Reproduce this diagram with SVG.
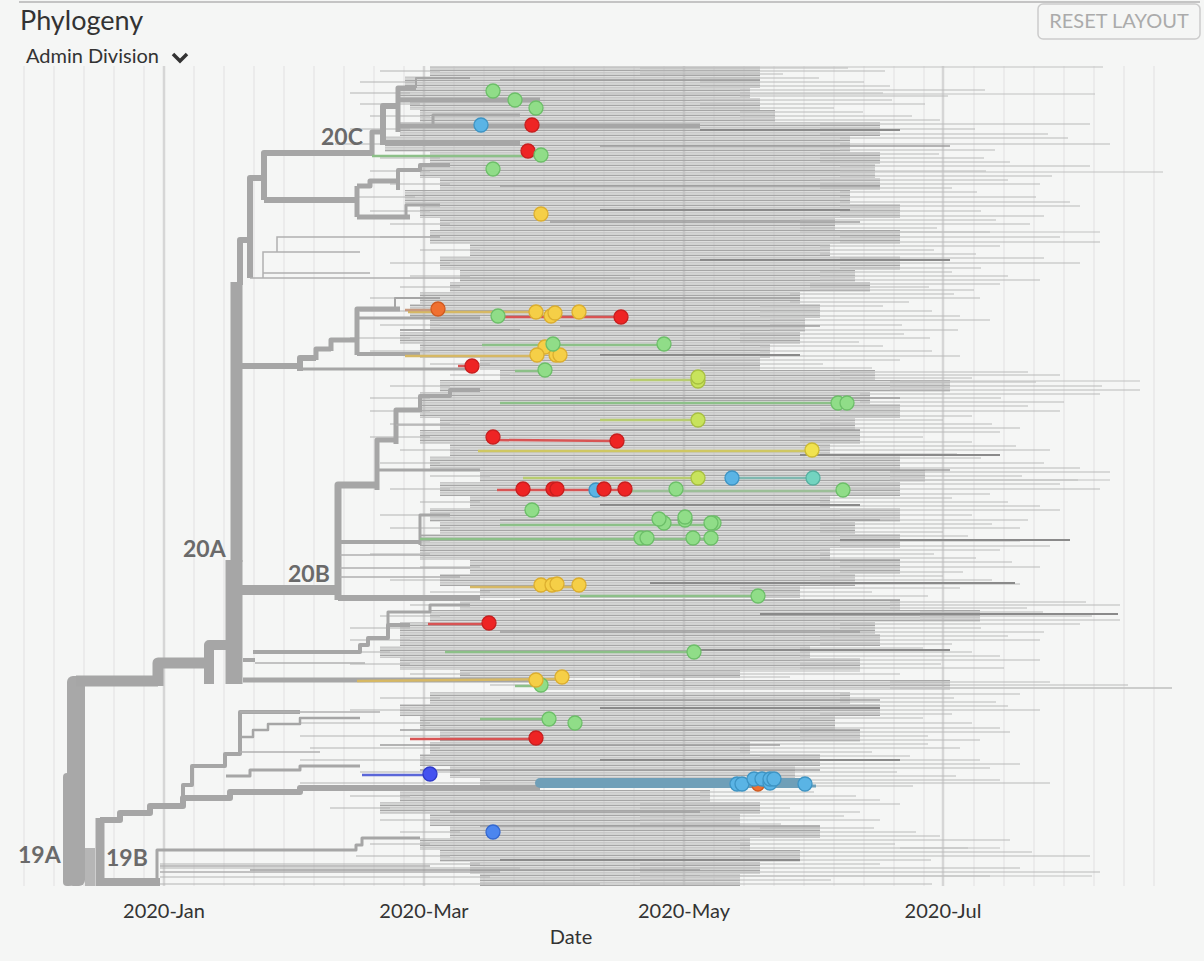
<svg xmlns="http://www.w3.org/2000/svg" width="1204" height="961" viewBox="0 0 1204 961">
<defs>
<style>
.txt{font-family:Lato,"Liberation Sans",sans-serif;fill:#333}
.clade{font-family:Lato,"Liberation Sans",sans-serif;font-weight:700;font-size:23px;fill:#6a6a6a}
.gm{stroke:#e4e4e4;stroke-width:1.2}
.gM{stroke:#d6d6d6;stroke-width:2.5}
.c{fill:url(#st)}
.ext{fill:none;stroke:#bababa;stroke-width:1.1}
.lead{fill:none;stroke:#b3b3b3;stroke-width:1.2}
.br{fill:none;stroke:#a6a6a6;stroke-linejoin:round}
.a1{stroke:#9c9c9c;stroke-width:1.4}
.a2{stroke:#8a8a8a;stroke-width:2}
.a3{stroke:#c2c2c2;stroke-width:1.2}
.th{stroke:#b0b0b0;stroke-width:1.5;fill:none}
.lg{stroke:#8cc088;stroke-width:2.5}
.lr{stroke:#d85454;stroke-width:2.5}
.lt{stroke:#d6b864;stroke-width:2.5}
.ly{stroke:#cfc762;stroke-width:2.5}
.lyg{stroke:#b8cc70;stroke-width:2.5}
.dot{stroke-width:1.3}
.g{fill:#90dd88;stroke:#6cbf68}
.r{fill:#ee2424;stroke:#c81e1e}
.b{fill:#5ab4e5;stroke:#3d94c4}
.y{fill:#f5cf47;stroke:#dcae2e}
.o{fill:#f07030;stroke:#d05a20}
.yg{fill:#c8e35c;stroke:#a8c040}
.yy{fill:#f1e34f;stroke:#ccbb33}
.tl{fill:#73d4c0;stroke:#55b0a0}
.db{fill:#4452f0;stroke:#2e3ac8}
.mb{fill:#4c86ef;stroke:#3468d0}
</style>
<pattern id="st" width="10" height="5" patternUnits="userSpaceOnUse"><rect width="10" height="1.3" fill="#a6a6a6"/><rect y="2.2" width="10" height="1" fill="#bfbfbf"/><rect y="3.6" width="10" height="0.9" fill="#b0b0b0"/></pattern>
</defs>
<rect width="1204" height="961" fill="#f5f6f5"/>

<g id="header">
<line x1="19" y1="2" x2="1200" y2="2" stroke="#c4c4c4" stroke-width="2"/>
<text class="txt" x="20" y="30" font-size="27">Phylogeny</text>
<text class="txt" x="26" y="63" font-size="20">Admin Division</text>
<path d="M173 54 L180 61 L187 54" fill="none" stroke="#333" stroke-width="3.5"/>
<rect x="1038" y="4" width="162" height="35" rx="5" fill="none" stroke="#cccccc" stroke-width="1.5"/>
<text x="1119" y="28" font-family="Lato,'Liberation Sans',sans-serif" font-size="20" fill="#ababab" text-anchor="middle">RESET LAYOUT</text>
</g>

<g id="grid">
<line class="gm" x1="24" y1="66" x2="24" y2="886"/><line class="gm" x1="54" y1="66" x2="54" y2="886"/><line class="gm" x1="84" y1="66" x2="84" y2="886"/><line class="gm" x1="114" y1="66" x2="114" y2="886"/><line class="gm" x1="144" y1="66" x2="144" y2="886"/>
<line class="gm" x1="194" y1="66" x2="194" y2="886"/><line class="gm" x1="224" y1="66" x2="224" y2="886"/><line class="gm" x1="254" y1="66" x2="254" y2="886"/><line class="gm" x1="284" y1="66" x2="284" y2="886"/><line class="gm" x1="314" y1="66" x2="314" y2="886"/><line class="gm" x1="344" y1="66" x2="344" y2="886"/><line class="gm" x1="374" y1="66" x2="374" y2="886"/><line class="gm" x1="404" y1="66" x2="404" y2="886"/>
<line class="gm" x1="454" y1="66" x2="454" y2="886"/><line class="gm" x1="484" y1="66" x2="484" y2="886"/><line class="gm" x1="514" y1="66" x2="514" y2="886"/><line class="gm" x1="544" y1="66" x2="544" y2="886"/><line class="gm" x1="574" y1="66" x2="574" y2="886"/><line class="gm" x1="604" y1="66" x2="604" y2="886"/><line class="gm" x1="634" y1="66" x2="634" y2="886"/><line class="gm" x1="664" y1="66" x2="664" y2="886"/>
<line class="gm" x1="714" y1="66" x2="714" y2="886"/><line class="gm" x1="744" y1="66" x2="744" y2="886"/><line class="gm" x1="774" y1="66" x2="774" y2="886"/><line class="gm" x1="804" y1="66" x2="804" y2="886"/><line class="gm" x1="834" y1="66" x2="834" y2="886"/><line class="gm" x1="864" y1="66" x2="864" y2="886"/><line class="gm" x1="894" y1="66" x2="894" y2="886"/><line class="gm" x1="924" y1="66" x2="924" y2="886"/>
<line class="gm" x1="974" y1="66" x2="974" y2="886"/><line class="gm" x1="1004" y1="66" x2="1004" y2="886"/><line class="gm" x1="1034" y1="66" x2="1034" y2="886"/><line class="gm" x1="1064" y1="66" x2="1064" y2="886"/><line class="gm" x1="1094" y1="66" x2="1094" y2="886"/><line class="gm" x1="1124" y1="66" x2="1124" y2="886"/><line class="gm" x1="1154" y1="66" x2="1154" y2="886"/>
<line class="gM" x1="164" y1="66" x2="164" y2="886"/><line class="gM" x1="424" y1="66" x2="424" y2="886"/><line class="gM" x1="684" y1="66" x2="684" y2="886"/><line class="gM" x1="943" y1="66" x2="943" y2="886"/>
</g>

<g id="tips">
<rect class="c" x="430" y="66" width="330" height="10"/>
<rect class="c" x="405" y="76" width="355" height="12"/>
<rect class="c" x="400" y="88" width="350" height="10"/>
<rect class="c" x="410" y="98" width="350" height="12"/>
<rect class="c" x="420" y="110" width="355" height="12"/>
<rect class="c" x="400" y="122" width="480" height="14"/>
<rect class="c" x="385" y="136" width="465" height="16"/>
<rect class="c" x="430" y="152" width="450" height="12"/>
<rect class="c" x="420" y="164" width="455" height="14"/>
<rect class="c" x="440" y="178" width="440" height="12"/>
<rect class="c" x="405" y="190" width="445" height="14"/>
<rect class="c" x="420" y="204" width="480" height="14"/>
<rect class="c" x="440" y="218" width="395" height="12"/>
<rect class="c" x="430" y="230" width="470" height="14"/>
<rect class="c" x="470" y="244" width="360" height="12"/>
<rect class="c" x="440" y="256" width="460" height="14"/>
<rect class="c" x="460" y="270" width="395" height="12"/>
<rect class="c" x="450" y="282" width="420" height="10"/>
<rect class="c" x="420" y="292" width="380" height="12"/>
<rect class="c" x="410" y="304" width="410" height="14"/>
<rect class="c" x="430" y="318" width="375" height="14"/>
<rect class="c" x="400" y="332" width="400" height="12"/>
<rect class="c" x="420" y="344" width="350" height="14"/>
<rect class="c" x="480" y="358" width="280" height="12"/>
<rect class="c" x="500" y="370" width="375" height="10"/>
<rect class="c" x="440" y="380" width="510" height="12"/>
<rect class="c" x="420" y="392" width="450" height="12"/>
<rect class="c" x="420" y="404" width="480" height="14"/>
<rect class="c" x="440" y="418" width="415" height="12"/>
<rect class="c" x="420" y="430" width="440" height="14"/>
<rect class="c" x="450" y="444" width="380" height="12"/>
<rect class="c" x="430" y="456" width="470" height="14"/>
<rect class="c" x="480" y="470" width="445" height="12"/>
<rect class="c" x="440" y="482" width="460" height="14"/>
<rect class="c" x="470" y="496" width="360" height="12"/>
<rect class="c" x="430" y="508" width="470" height="14"/>
<rect class="c" x="440" y="522" width="415" height="12"/>
<rect class="c" x="420" y="534" width="480" height="14"/>
<rect class="c" x="420" y="548" width="410" height="12"/>
<rect class="c" x="470" y="560" width="430" height="14"/>
<rect class="c" x="440" y="574" width="415" height="12"/>
<rect class="c" x="480" y="586" width="320" height="12"/>
<rect class="c" x="460" y="600" width="440" height="10"/>
<rect class="c" x="430" y="610" width="550" height="12"/>
<rect class="c" x="400" y="622" width="475" height="12"/>
<rect class="c" x="400" y="634" width="480" height="12"/>
<rect class="c" x="380" y="646" width="430" height="12"/>
<rect class="c" x="400" y="658" width="460" height="12"/>
<rect class="c" x="460" y="670" width="280" height="8"/>
<rect class="c" x="540" y="680" width="410" height="10"/>
<rect class="c" x="430" y="692" width="420" height="12"/>
<rect class="c" x="400" y="704" width="480" height="12"/>
<rect class="c" x="420" y="716" width="415" height="14"/>
<rect class="c" x="440" y="730" width="420" height="12"/>
<rect class="c" x="430" y="742" width="320" height="12"/>
<rect class="c" x="420" y="754" width="400" height="12"/>
<rect class="c" x="450" y="766" width="345" height="12"/>
<rect class="c" x="480" y="778" width="320" height="10"/>
<rect class="c" x="400" y="790" width="310" height="12"/>
<rect class="c" x="380" y="802" width="380" height="12"/>
<rect class="c" x="430" y="814" width="310" height="12"/>
<rect class="c" x="450" y="826" width="370" height="12"/>
<rect class="c" x="420" y="838" width="330" height="12"/>
<rect class="c" x="440" y="850" width="360" height="12"/>
<rect class="c" x="470" y="862" width="290" height="12"/>
<rect class="c" x="480" y="874" width="260" height="12"/>

<path class="ext" d="M640 68H848M640 71H885M640 74H783M700 78H819M700 82H864M700 86H890M740 90H985M740 93H883M740 96H948M700 100H892M700 104H925M700 108H834M740 112H863M740 116H912M740 120H940M820 124H1090M820 129H975M820 134H1048M840 138H1068M840 144H1110M840 150H995M820 154H939M820 158H984M820 162H1010M840 166H1090M840 171H986M840 176H1052M820 180H1008M820 184H1040M820 188H952M840 192H977M840 197H1036M840 202H1070M840 206H1080M840 211H981M840 216H1044M800 220H996M800 224H1030M800 228H937M840 232H990M840 237H1060M840 242H1100M820 246H1000M820 250H934M820 254H976M840 258H1044M840 263H1080M840 268H981M820 272H952M820 276H1008M820 280H1040M810 284H1000M810 287H929M810 290H974M790 294H954M790 298H980M790 302H909M760 306H883M760 311H932M760 316H960M770 320H990M770 325H902M770 330H958M740 334H904M740 338H930M740 342H859M760 346H883M760 351H932M760 356H960M700 360H900M700 364H823M700 368H872M840 372H1028M840 375H1060M840 378H972M890 382H1036M890 386H1102M890 390H1140M860 394H1100M860 398H1001M860 402H1064M840 406H1028M840 411H1060M840 416H972M820 420H943M820 424H992M820 428H1020M800 432H1000M800 437H923M800 442H972M820 446H1016M820 450H1050M820 454H957M840 458H981M840 463H1044M840 468H1080M890 472H1110M890 476H1022M890 480H1078M840 484H1060M840 489H1100M840 494H990M820 498H952M820 502H1008M820 506H1040M840 510H1060M840 515H972M840 520H1028M820 524H992M820 528H1020M820 532H943M840 536H968M840 541H1020M840 546H1050M820 550H1000M820 554H934M820 558H976M840 562H1012M840 567H1040M840 572H963M820 576H943M820 580H992M820 584H1020M740 588H960M740 592H872M740 596H928M890 602H1086M890 605H1120M890 608H1027M920 612H1043M920 616H1092M920 620H1120M840 624H1080M840 628H981M840 632H1044M820 636H1008M820 640H1040M820 644H952M800 648H923M800 652H972M800 656H1000M800 660H1040M800 664H941M800 668H1004M640 671H860M640 674H900M640 677H790M890 682H1050M890 685H1128M890 688H1172M840 694H1020M840 698H954M840 702H996M820 706H1008M820 710H1040M820 714H952M800 718H923M800 723H972M800 728H1000M800 732H1010M800 736H928M800 740H980M740 744H928M740 748H960M740 752H872M760 756H910M760 760H980M760 764H1020M760 768H990M760 772H897M760 776H956M740 780H1000M740 783H1050M740 786H913M700 792H814M700 796H856M700 800H880M640 804H900M640 808H790M640 812H860M640 816H844M640 820H880M640 824H781M760 828H874M760 832H916M760 836H940M740 840H1010M740 844H895M740 848H968M740 852H1032M740 856H1090M740 860H931M640 864H880M640 868H1020M640 872H1100M640 876H990M640 880H831M640 884H932"/>

<path class="lead" d="M380 71H440M360 82H415M350 93H410M360 104H420M370 116H430M350 129H410M335 144H395M380 158H440M370 171H430M390 184H450M355 197H415M370 211H430M390 224H450M380 237H440M420 250H480M390 263H450M410 276H470M400 287H460M370 298H430M360 311H420M380 325H440M350 338H410M370 351H430M430 364H490M450 375H510M390 386H450M370 398H430M370 411H430M390 424H450M370 437H430M400 450H460M380 463H440M430 476H490M390 489H450M420 502H480M380 515H440M390 528H450M370 541H430M370 554H430M420 567H480M390 580H450M430 592H490M410 605H470M380 616H440M350 628H410M350 640H410M330 652H390M350 664H410M410 674H470M490 685H550M380 698H440M350 710H410M300 723H430M300 736H450M310 748H440M300 760H430M360 772H460M300 783H490M350 796H410M330 808H390M380 820H440M400 832H460M370 844H430M356 856H450M160 864H480M160 868H520M160 877H490M160 884H600"/>

<line class="a3" x1="430" y1="67" x2="1103" y2="67"/><line class="a3" x1="600" y1="94" x2="1095" y2="94"/><line class="a3" x1="700" y1="172" x2="1163" y2="172"/><line class="a3" x1="800" y1="232" x2="1100" y2="232"/><line class="a3" x1="900" y1="381" x2="1140" y2="381"/><line class="a3" x1="900" y1="480" x2="1110" y2="480"/><line class="a3" x1="900" y1="688" x2="1172" y2="688"/><line class="a3" x1="700" y1="876" x2="1092" y2="876"/><line class="a3" x1="900" y1="848" x2="1000" y2="848"/>
<line class="a2" x1="650" y1="583" x2="1015" y2="583"/><line class="a2" x1="760" y1="614" x2="1118" y2="614"/><line class="a2" x1="840" y1="540" x2="1070" y2="540"/><line class="a2" x1="800" y1="455" x2="1000" y2="455"/><line class="a2" x1="700" y1="130" x2="900" y2="130"/><line class="a2" x1="600" y1="210" x2="850" y2="210"/><line class="a2" x1="700" y1="260" x2="950" y2="260"/><line class="a2" x1="600" y1="355" x2="800" y2="355"/><line class="a2" x1="600" y1="505" x2="860" y2="505"/><line class="a2" x1="700" y1="650" x2="950" y2="650"/><line class="a2" x1="600" y1="708" x2="880" y2="708"/><line class="a2" x1="600" y1="760" x2="900" y2="760"/><line class="a2" x1="500" y1="860" x2="800" y2="860"/>
<line class="a1" x1="500" y1="80" x2="760" y2="80"/><line class="a1" x1="600" y1="146" x2="950" y2="146"/><line class="a1" x1="500" y1="186" x2="880" y2="186"/><line class="a1" x1="550" y1="222" x2="860" y2="222"/><line class="a1" x1="500" y1="298" x2="800" y2="298"/><line class="a1" x1="560" y1="326" x2="820" y2="326"/><line class="a1" x1="560" y1="398" x2="900" y2="398"/><line class="a1" x1="600" y1="430" x2="860" y2="430"/><line class="a1" x1="560" y1="470" x2="950" y2="470"/><line class="a1" x1="500" y1="520" x2="880" y2="520"/><line class="a1" x1="560" y1="560" x2="900" y2="560"/><line class="a1" x1="520" y1="600" x2="900" y2="600"/><line class="a1" x1="500" y1="632" x2="860" y2="632"/><line class="a1" x1="500" y1="700" x2="880" y2="700"/><line class="a1" x1="400" y1="730" x2="860" y2="730"/><line class="a1" x1="380" y1="745" x2="780" y2="745"/><line class="a1" x1="420" y1="770" x2="820" y2="770"/><line class="a1" x1="450" y1="812" x2="700" y2="812"/><line class="a1" x1="480" y1="826" x2="820" y2="826"/><line class="a1" x1="250" y1="870" x2="700" y2="870"/>
</g>

<g id="tree">
<rect x="67" y="676" width="18" height="210" rx="6" fill="#a8a8a8"/>
<rect x="63" y="773" width="10" height="113" rx="4" fill="#a8a8a8"/>
<rect x="85" y="848" width="10" height="38" fill="#b6b6b6"/>
<path class="br" d="M76 681 H158" stroke-width="11"/>
<path class="br" d="M158 686 V663 H210" stroke-width="11"/>
<path class="br" d="M209 684 V645 H237" stroke-width="10"/>
<path class="br" d="M234 684 V560" stroke-width="17"/>
<path class="br" d="M236.5 562 V282" stroke-width="12" stroke="#a0a0a0"/>
<path class="br" d="M240 285 V240 H250" stroke-width="6"/>
<path class="br" d="M250 278 V178 H264" stroke-width="6"/>
<path class="br" d="M264 200 V153 H372" stroke-width="6"/>
<path class="br" d="M264 200 H357" stroke-width="6"/>
<path class="br" d="M372 156 V132 H383" stroke-width="5"/>
<path class="br" d="M383 145 V106 H398" stroke-width="6"/>
<path class="br" d="M398 132 V88 H416" stroke-width="5"/>
<path class="br" d="M398 100 H540" stroke-width="5" stroke="#a9a9a9"/>
<path class="br" d="M398 126 H700" stroke-width="5" stroke="#8e8e8e"/>
<path class="br" d="M383 143 H520" stroke-width="4" stroke="#b0b0b0"/>
<path class="br" d="M416 88 V78 H470" stroke-width="2"/>
<path class="br" d="M433 126 V115 H520" stroke-width="3"/>
<path class="br" d="M357 186 V217" stroke-width="5"/>
<path class="br" d="M357 186 H370 V181 H398" stroke-width="5"/>
<path class="br" d="M398 190 V170 H420 V165 H450" stroke-width="4"/>
<path class="br" d="M357 217 H410" stroke-width="5"/>
<path class="br" d="M406 217 V205 H440" stroke-width="3"/>
<path class="th" d="M250 278 H630 M263 278 V252 H360 M277 252 V237 H440 M263 273 H370"/>
<path class="br" d="M237 366 H300" stroke-width="6"/>
<path class="br" d="M300 371 V358 H316" stroke-width="6"/>
<path class="br" d="M316 360 V349 H331" stroke-width="5"/>
<path class="br" d="M331 351 V340 H357" stroke-width="5"/>
<path class="br" d="M357 355 V309 H400" stroke-width="5"/>
<path class="br" d="M357 354 H420" stroke-width="4"/>
<path class="br" d="M300 369 H470" stroke-width="3"/>
<path class="br" d="M357 318 H480" stroke-width="3" stroke="#8e8e8e"/>
<path class="br" d="M395 309 V298 H440 M400 330 H520" stroke-width="2"/>
<path class="br" d="M237 590 H340" stroke-width="10"/>
<path class="br" d="M338 600 V485 H377" stroke-width="7"/>
<path class="br" d="M377 490 V440 H396" stroke-width="5"/>
<path class="br" d="M396 444 V410 H420" stroke-width="5"/>
<path class="br" d="M420 412 V396 H450 V390 H480" stroke-width="4"/>
<path class="br" d="M338 598 H480" stroke-width="6" stroke="#999"/>
<path class="br" d="M338 542 H420" stroke-width="4"/>
<path class="br" d="M420 545 V515 H450" stroke-width="3"/>
<path class="br" d="M377 470 H480" stroke-width="3"/>
<path class="th" d="M340 555 H420 M340 568 H470 M340 577 H460 M396 425 H470"/>
<path class="br" d="M243 680 H540" stroke-width="5" stroke="#a9a9a9"/>
<path class="br" d="M243 660 H255 M253 652 H360 V645 H368 V638 H388 V625 H410" stroke-width="4"/>
<path class="br" d="M388 625 V612 H430 V605 H470" stroke-width="3"/>
<path class="th" d="M255 663 H365"/>
<path class="br" d="M100 886 V818" stroke-width="9"/>
<path class="br" d="M100 820 H120 V813 H150 V806 H183 V798 H230 V792 H300 V788 H540" stroke-width="6"/>
<path class="br" d="M183 798 V785 H192 V766 H225 V754 H240 V712 H300" stroke-width="4"/>
<path class="br" d="M240 737 H253 V730 H268 V724 H300 V718 H360" stroke-width="2.5"/>
<path class="br" d="M226 776 H250 V770 H300 V766 H360" stroke-width="3"/>
<path class="th" d="M240 752 H320 M240 712 H380"/>
<path class="br" d="M100 882 H160" stroke-width="8"/>
<path class="br" d="M157 882 V850 H356 V845 H362 V838 H420" stroke-width="3"/>
<path class="th" d="M160 866 H430 M160 872 H500"/>
</g>

<g id="lineages">
<line class="lg" x1="372" y1="156" x2="541" y2="156"/>
<line class="lt" x1="408" y1="312" x2="540" y2="312"/>
<line stroke="#c89a80" stroke-width="2.5" x1="405" y1="310" x2="438" y2="310"/>
<line class="lr" x1="498" y1="317" x2="621" y2="317"/>
<line class="lt" x1="405" y1="356" x2="540" y2="356"/>
<line class="lg" x1="482" y1="345" x2="664" y2="345"/>
<line class="lr" x1="458" y1="366" x2="472" y2="366"/>
<line class="lg" x1="515" y1="371" x2="545" y2="371"/>
<line class="lyg" x1="630" y1="380" x2="698" y2="380"/>
<line class="lg" x1="500" y1="403" x2="842" y2="403" stroke-width="3"/>
<line class="lyg" x1="600" y1="420" x2="698" y2="420"/>
<line class="lr" x1="493" y1="440" x2="617" y2="441"/>
<line class="ly" x1="478" y1="451" x2="812" y2="451"/>
<line class="lyg" x1="523" y1="478" x2="698" y2="478"/>
<line stroke="#7fb8b0" stroke-width="2.5" x1="732" y1="478" x2="813" y2="478"/>
<line class="lr" x1="497" y1="490" x2="625" y2="490"/>
<line stroke="#9cbf98" stroke-width="2.5" x1="625" y1="491" x2="843" y2="491"/>
<line class="lg" x1="500" y1="525" x2="714" y2="525"/>
<line class="lg" x1="420" y1="539" x2="711" y2="539"/>
<line class="lt" x1="470" y1="587" x2="579" y2="587"/>
<line class="lg" x1="580" y1="596" x2="758" y2="596"/>
<line class="lr" x1="428" y1="624" x2="489" y2="624"/>
<line class="lg" x1="445" y1="652" x2="694" y2="652"/>
<line class="lt" x1="357" y1="681" x2="562" y2="679"/>
<line class="lg" x1="515" y1="686" x2="541" y2="686"/>
<line class="lg" x1="480" y1="719" x2="549" y2="719"/>
<line class="lr" x1="410" y1="739" x2="536" y2="739"/>
<line stroke="#5a66d8" stroke-width="2.5" x1="362" y1="775" x2="430" y2="775"/>
<line stroke="#6f9fb8" stroke-width="10" stroke-linecap="round" x1="540" y1="783" x2="800" y2="783"/>
<line stroke="#6f9fb8" stroke-width="3" x1="760" y1="786" x2="816" y2="786"/>
</g>

<g id="dots">
<circle class="dot g" cx="493" cy="91" r="7"/><circle class="dot g" cx="515" cy="100" r="7"/><circle class="dot g" cx="536" cy="108" r="7"/>
<circle class="dot b" cx="481" cy="125" r="7"/><circle class="dot r" cx="532" cy="125" r="7"/>
<circle class="dot r" cx="528" cy="151" r="7"/><circle class="dot g" cx="541" cy="155" r="7"/>
<circle class="dot g" cx="493" cy="169" r="7"/><circle class="dot y" cx="541" cy="214" r="7"/>
<circle class="dot o" cx="438" cy="309" r="7"/><circle class="dot g" cx="498" cy="316" r="7"/>
<circle class="dot y" cx="536" cy="312" r="7"/><circle class="dot y" cx="551" cy="316" r="7"/><circle class="dot y" cx="555" cy="313" r="7"/><circle class="dot y" cx="579" cy="312" r="7"/>
<circle class="dot r" cx="621" cy="317" r="7"/>
<circle class="dot y" cx="545" cy="347" r="7"/><circle class="dot y" cx="537" cy="355" r="7"/><circle class="dot y" cx="556" cy="355" r="7"/><circle class="dot y" cx="560" cy="355" r="7"/>
<circle class="dot g" cx="553" cy="344" r="7"/><circle class="dot g" cx="664" cy="344" r="7"/>
<circle class="dot r" cx="472" cy="366" r="7"/><circle class="dot g" cx="545" cy="370" r="7"/>
<circle class="dot yg" cx="698" cy="381" r="7"/><circle class="dot yg" cx="698" cy="377" r="7"/>
<circle class="dot g" cx="838" cy="403" r="7"/><circle class="dot g" cx="847" cy="403" r="7"/>
<circle class="dot yg" cx="698" cy="420" r="7"/>
<circle class="dot r" cx="493" cy="437" r="7"/><circle class="dot r" cx="617" cy="441" r="7"/>
<circle class="dot yy" cx="812" cy="450" r="7"/>
<circle class="dot yg" cx="698" cy="478" r="7"/><circle class="dot b" cx="732" cy="478" r="7"/><circle class="dot tl" cx="813" cy="478" r="7"/>
<circle class="dot r" cx="523" cy="489" r="7"/><circle class="dot r" cx="553" cy="489" r="7"/><circle class="dot b" cx="596" cy="490" r="7"/><circle class="dot r" cx="557" cy="489" r="7"/><circle class="dot r" cx="604" cy="489" r="7"/><circle class="dot r" cx="625" cy="489" r="7"/>
<circle class="dot g" cx="676" cy="489" r="7"/><circle class="dot g" cx="843" cy="490" r="7"/>
<circle class="dot g" cx="532" cy="510" r="7"/>
<circle class="dot g" cx="664" cy="523" r="7"/><circle class="dot g" cx="659" cy="519" r="7"/><circle class="dot g" cx="685" cy="520" r="7"/><circle class="dot g" cx="685" cy="517" r="7"/><circle class="dot g" cx="714" cy="523" r="7"/><circle class="dot g" cx="711" cy="523" r="7"/>
<circle class="dot g" cx="641" cy="538" r="7"/><circle class="dot g" cx="647" cy="538" r="7"/><circle class="dot g" cx="693" cy="538" r="7"/><circle class="dot g" cx="711" cy="538" r="7"/>
<circle class="dot y" cx="541" cy="585" r="7"/><circle class="dot y" cx="552" cy="585" r="7"/><circle class="dot y" cx="557" cy="584" r="7"/><circle class="dot y" cx="579" cy="585" r="7"/>
<circle class="dot g" cx="758" cy="596" r="7"/>
<circle class="dot r" cx="489" cy="623" r="7"/>
<circle class="dot g" cx="694" cy="652" r="7"/>
<circle class="dot g" cx="541" cy="685" r="7"/><circle class="dot y" cx="536" cy="680" r="7"/><circle class="dot y" cx="562" cy="677" r="7"/>
<circle class="dot g" cx="549" cy="719" r="7"/><circle class="dot g" cx="575" cy="723" r="7"/>
<circle class="dot r" cx="536" cy="738" r="7"/>
<circle class="dot db" cx="430" cy="774" r="7"/>
<circle class="dot o" cx="758" cy="785" r="6"/>
<circle class="dot b" cx="737" cy="784" r="7"/><circle class="dot b" cx="742" cy="784" r="7"/><circle class="dot b" cx="754" cy="779" r="7"/><circle class="dot b" cx="762" cy="779" r="7"/><circle class="dot b" cx="770" cy="783" r="7"/><circle class="dot b" cx="770" cy="779" r="7"/><circle class="dot b" cx="774" cy="779" r="7"/><circle class="dot b" cx="805" cy="784" r="7"/>
<circle class="dot mb" cx="493" cy="832" r="7"/>
</g>

<g id="clade-labels">
<text class="clade" x="321" y="145">20C</text>
<text class="clade" x="183" y="557">20A</text>
<text class="clade" x="288" y="582">20B</text>
<text class="clade" x="18" y="863">19A</text>
<text class="clade" x="106" y="866">19B</text>
</g>

<g id="axis">
<text class="txt" x="164" y="918" font-size="20" text-anchor="middle">2020-Jan</text>
<text class="txt" x="424" y="918" font-size="20" text-anchor="middle">2020-Mar</text>
<text class="txt" x="684" y="918" font-size="20" text-anchor="middle">2020-May</text>
<text class="txt" x="943" y="918" font-size="20" text-anchor="middle">2020-Jul</text>
<text class="txt" x="571" y="944" font-size="20" text-anchor="middle">Date</text>
</g>
</svg>
